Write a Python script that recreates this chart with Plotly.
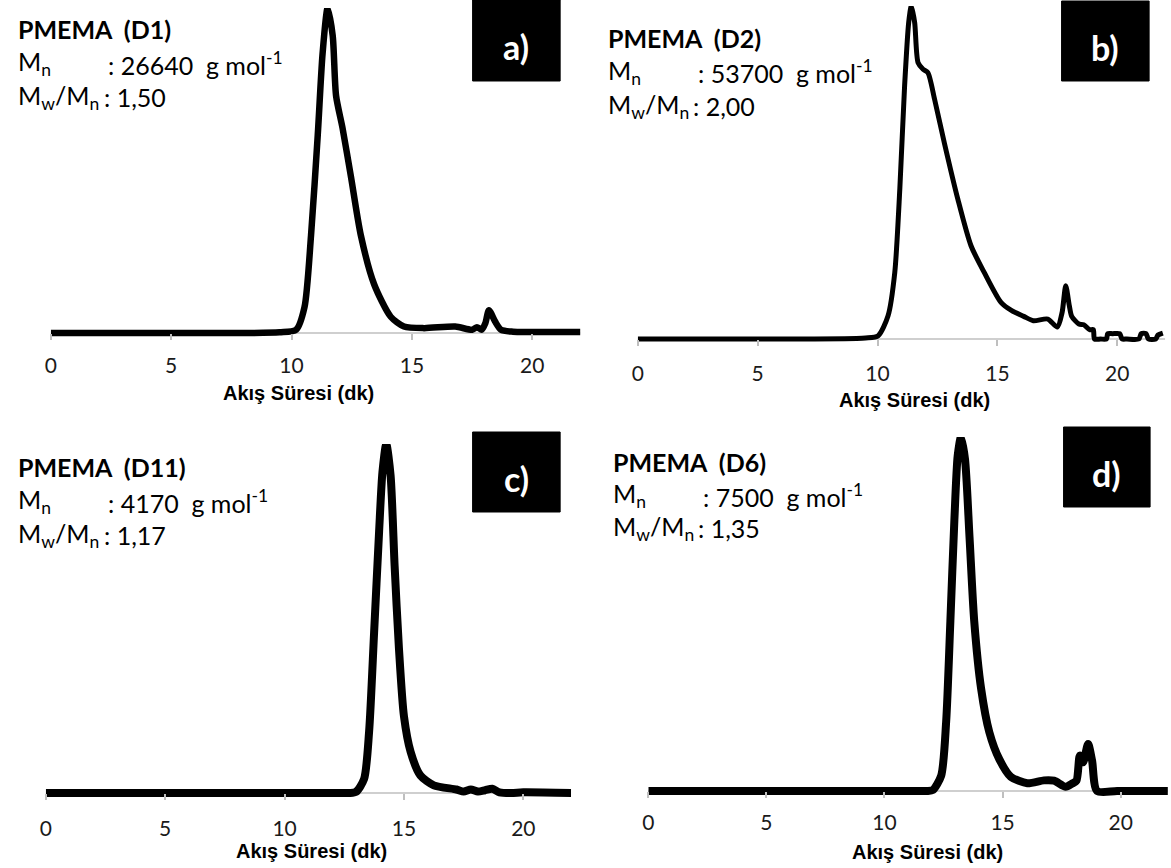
import plotly.graph_objects as go

W, H = 1171, 868

# ---------------- data ----------------
tick_vals = [0, 5, 10, 15, 20]
axis_title = "Akış Süresi (dk)"

t_a = [0, 5, 9.5, 10.19, 10.54, 10.81, 11.09, 11.29, 11.50, 11.71, 11.85, 12.12, 12.47, 12.88,
       13.43, 14.12, 14.67, 15.5, 16.8, 17.5, 17.7, 17.9, 18.05, 18.2, 18.45, 18.7, 19.2, 19.8, 21.0, 22.0]
h_a = [0, 0, 0.002, 0.01, 0.08, 0.30, 0.61, 0.86, 1.0, 0.915, 0.73, 0.63, 0.48, 0.30,
       0.15, 0.05, 0.02, 0.015, 0.02, 0.01, 0.018, 0.01, 0.03, 0.07, 0.036, 0.01, 0.004, 0.003, 0.003, 0.003]

t_b = [0, 5, 9.5, 10.03, 10.44, 10.72, 10.93, 11.13, 11.30, 11.41, 11.55, 11.69, 11.9, 12.1, 12.38,
       12.8, 13.35, 13.9, 14.45, 15.15, 15.6, 16.1, 16.5, 17.1, 17.5, 17.7, 17.85, 18.0, 18.1, 18.4,
       18.6, 18.85, 19.0, 19.05, 19.3, 19.55, 19.6, 19.8, 20.1, 20.2, 20.4, 20.9, 21.0, 21.2, 21.3,
       21.6, 21.7, 21.9]
h_b = [0, 0, 0.003, 0.01, 0.07, 0.2, 0.45, 0.76, 0.95, 1.0, 0.95, 0.83, 0.81, 0.80, 0.72,
       0.585, 0.42, 0.28, 0.2, 0.11, 0.085, 0.068, 0.055, 0.06, 0.036, 0.08, 0.16, 0.1, 0.068, 0.045,
       0.043, 0.028, 0.028, 0.0, 0.0, 0.0, 0.016, 0.016, 0.016, 0.0, 0.0, 0.0, 0.016, 0.016, 0.0,
       0.0, 0.012, 0.018]

t_c = [0, 5, 10, 12.0, 12.7, 12.99, 13.33, 13.54, 13.75, 13.96, 14.1, 14.26, 14.44, 14.61, 14.79, 15.0,
       15.28, 15.69, 16.25, 17.2, 17.5, 17.8, 18.1, 18.4, 18.7, 19.0, 19.5, 20, 22]
h_c = [0, 0, 0, 0, 0, 0.003, 0.04, 0.175, 0.46, 0.75, 0.92, 1.0, 0.91, 0.65, 0.415, 0.22,
       0.118, 0.05, 0.022, 0.01, 0.004, 0.01, 0.004, 0.008, 0.012, 0.002, 0.0, 0.002, 0]

t_d = [0, 5, 10, 11.2, 11.8, 12.05, 12.4, 12.61, 12.79, 12.96, 13.1, 13.24, 13.41, 13.6, 13.8, 14.09, 14.44,
       14.86, 15.35, 16.05, 16.75, 17.18, 17.67, 17.95, 18.13, 18.27, 18.41, 18.62, 18.79, 19.0, 19.85, 22]
h_d = [0, 0, 0, 0, 0, 0.003, 0.043, 0.194, 0.48, 0.766, 0.947, 1.0, 0.937, 0.718, 0.48, 0.29, 0.166,
       0.09, 0.04, 0.022, 0.03, 0.029, 0.012, 0.021, 0.029, 0.1, 0.081, 0.133, 0.086, 0.0, 0, 0]

panel_letters = ["a)", "b)", "c)", "d)"]
sample_names = ["PMEMA\u00a0\u00a0(D1)", "PMEMA\u00a0\u00a0(D2)", "PMEMA\u00a0\u00a0(D11)", "PMEMA\u00a0\u00a0(D6)"]
mn_values = ["26640", "53700", "4170", "7500"]
pdi_values = ["1,50", "2,00", "1,17", "1,35"]
series_t = [t_a, t_b, t_c, t_d]
series_h = [h_a, h_b, h_c, h_d]

# ---------------- layout geometry (pixels) ----------------
geo = [
    dict(x0=45, ppu=24.2, base=333, top=8, lw=6.5, lab=33, tx=294, ty=393,
         txt_x=10, txt_y=[29, 63, 97], box=(469, 0, 557, 81)),
    dict(x0=635, ppu=24.1, base=339, top=6, lw=5, lab=35, tx=913, ty=400,
         txt_x=603, txt_y=[38, 72, 106], box=(1061, 1, 1149, 81)),
    dict(x0=40, ppu=24.0, base=793, top=444, lw=8, lab=36, tx=307, ty=851,
         txt_x=10, txt_y=[467, 501, 535], box=(469, 432, 557, 512)),
    dict(x0=645.6, ppu=23.74, base=791, top=437, lw=8, lab=32, tx=926, ty=852,
         txt_x=608, txt_y=[462, 495, 528], box=(1063, 427, 1150, 507)),
]

def px(x):
    return x / W

def py(y):
    return 1 - y / H

TEXT_FONT = "Lato"
fig = go.Figure()
annotations = []
shapes = []
XMAX = 22.0
YMIN = -0.04

for i in range(4):
    g = geo[i]
    n = "" if i == 0 else str(i + 1)
    xr = g["x0"] + XMAX * g["ppu"]
    span = g["base"] - g["top"]
    bottom_px = g["base"] - YMIN * span
    # gray baseline drawn at y = 0 in data coordinates
    shapes.append(dict(type="line", xref="x" + n, yref="y" + n, x0=0, x1=XMAX, y0=0, y1=0,
                       line=dict(color="#bfbfbf", width=1.5), layer="below"))
    fig.add_trace(go.Scatter(
        x=series_t[i], y=series_h[i], mode="lines",
        line=dict(color="black", width=g["lw"], shape="spline", smoothing=0.7),
        xaxis="x" + n, yaxis="y" + n, showlegend=False, hoverinfo="skip"))
    fig.layout["xaxis" + n] = dict(
        domain=[px(g["x0"]), px(xr)], range=[0, XMAX], anchor="free", position=py(g["base"]),
        showgrid=False, zeroline=False, showline=False,
        ticks="outside", ticklen=6, tickcolor="#bfbfbf", tickwidth=1.5,
        tickvals=tick_vals, ticktext=[str(v) for v in tick_vals],
        tickfont=dict(family=TEXT_FONT, size=21, color="#1a1a1a"),
        ticklabelstandoff=g["lab"] - 25, fixedrange=True)
    fig.layout["yaxis" + n] = dict(
        domain=[py(bottom_px), py(g["top"])], range=[YMIN, 1.0], anchor="x" + n,
        visible=False, fixedrange=True)

    # axis title
    annotations.append(dict(x=px(g["tx"]), y=py(g["ty"]), xref="paper", yref="paper",
                            text="<b>" + axis_title + "</b>", showarrow=False,
                            xanchor="center", yanchor="middle",
                            font=dict(family="Liberation Sans", size=20, color="black")))
    # sample text block
    tx0 = g["txt_x"]
    ys = g["txt_y"]
    annotations.append(dict(x=px(tx0), y=py(ys[0]), xref="paper", yref="paper",
                            text="<b>" + sample_names[i] + "</b>", showarrow=False,
                            xanchor="left", yanchor="middle",
                            font=dict(family=TEXT_FONT, size=25, color="black")))
    annotations.append(dict(x=px(tx0), y=py(ys[1]), xref="paper", yref="paper",
                            text="M<sub>n</sub>", showarrow=False,
                            xanchor="left", yanchor="middle",
                            font=dict(family=TEXT_FONT, size=25, color="black")))
    annotations.append(dict(x=px(tx0 + 91), y=py(ys[1]), xref="paper", yref="paper",
                            text=": " + mn_values[i] + "\u00a0\u00a0g mol<sup>-1</sup>", showarrow=False,
                            xanchor="left", yanchor="middle",
                            font=dict(family=TEXT_FONT, size=25, color="black")))
    annotations.append(dict(x=px(tx0), y=py(ys[2]), xref="paper", yref="paper",
                            text="M<sub>w</sub>/M<sub>n</sub>", showarrow=False,
                            xanchor="left", yanchor="middle",
                            font=dict(family=TEXT_FONT, size=25, color="black")))
    annotations.append(dict(x=px(tx0 + 86), y=py(ys[2]), xref="paper", yref="paper",
                            text=": " + pdi_values[i], showarrow=False,
                            xanchor="left", yanchor="middle",
                            font=dict(family=TEXT_FONT, size=25, color="black")))
    # letter box
    bx0, by0, bx1, by1 = g["box"]
    shapes.append(dict(type="rect", xref="paper", yref="paper",
                       x0=px(bx0), x1=px(bx1), y0=py(by1), y1=py(by0),
                       fillcolor="black", line=dict(color="black", width=1)))
    annotations.append(dict(x=px((bx0 + bx1) / 2), y=py((by0 + by1) / 2 + 6), xref="paper", yref="paper",
                            text="<b>" + panel_letters[i] + "</b>", showarrow=False,
                            xanchor="center", yanchor="middle",
                            font=dict(family=TEXT_FONT, size=34, color="white")))

fig.update_layout(width=W, height=H, margin=dict(l=0, r=0, t=0, b=0),
                  paper_bgcolor="white", plot_bgcolor="white",
                  annotations=annotations, shapes=shapes)
fig.write_html("out.html", config={"displayModeBar": False},
               post_script="document.body.style.margin='0';")
